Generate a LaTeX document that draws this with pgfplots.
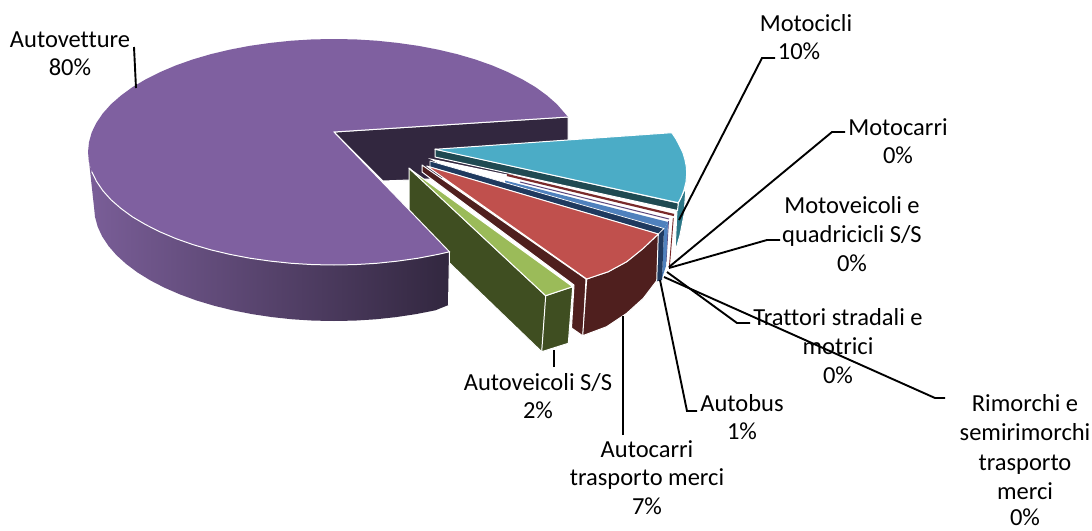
\documentclass[border=0pt]{standalone}
\usepackage{pgfplots}
\pgfplotsset{compat=1.18}
\usepackage{fontspec}
\setmainfont{Carlito}[Ligatures=NoCommon]
\definecolor{pTop}{HTML}{7F60A0}
\definecolor{pDark}{HTML}{32273F}
\definecolor{pLight}{HTML}{7A5E98}
\definecolor{tTop}{HTML}{4BACC6}
\definecolor{tDark}{HTML}{1F4A52}
\definecolor{tWall}{HTML}{2C7787}
\definecolor{rTop}{HTML}{C0504D}
\definecolor{rDark}{HTML}{4F1F1E}
\definecolor{gTop}{HTML}{9BBB59}
\definecolor{gDark}{HTML}{3F4E21}
\definecolor{navy}{HTML}{1F3A5F}
\definecolor{lblue}{HTML}{4F81BD}
\definecolor{thinred}{HTML}{7A2A2A}
\definecolor{thinpur}{HTML}{5F4A7E}
\pgfplotsset{
  sl/.style={draw=white,line width=1pt,line join=round,mark=none,sharp plot,forget plot},
  ld/.style={draw=black,line width=1.9pt,mark=none,sharp plot,forget plot},
}
\newcommand{\lab}[3]{\node[anchor=base,inner sep=0pt,font=\fontsize{24.5}{28}\selectfont] at (axis cs:#1,#2) {#3};}
\begin{document}
\begin{tikzpicture}
\begin{axis}[
  hide axis, scale only axis, width=1092pt, height=530pt,
  xmin=0, xmax=1092, ymin=0, ymax=530, y dir=reverse, clip=false,
]
\addplot[draw=none,fill=white,mark=none,forget plot] coordinates {(0,0)(1092,0)(1092,530)(0,530)} --cycle;
% inner dark wall of the main slice
\addplot[sl,fill=pDark] coordinates {(334,132)(568,117)(568,172)(409.5,180)(383,181)} --cycle;
% small slices: white area
\addplot[draw=none,fill=white,mark=none,forget plot] coordinates {(428,158)(677,210)(672,272)(660,280)} --cycle;
% Motocicli
\addplot[sl,fill=tWall] coordinates {(678.3,203)(686,187)(684,215)(680,235)(675,252)(677,210)} --cycle;
\addplot[sl,fill=tDark] coordinates {(435,149)(678.3,203)(677.5,210.5)(435,157)} --cycle;
\addplot[sl,fill=tTop] coordinates {(435,149.3)(671.7,132.7)(676,139)(680,146.7)(683,153)(685,160)(686.2,166)(686.7,173.3)(686,182)(684,190)(681.5,196.5)(678.3,202.7)} --cycle;
% thin lines
\addplot[draw=thinred,line width=0.9pt,mark=none,forget plot] coordinates {(673.3,218)(669.3,268)};
\addplot[draw=thinpur,line width=0.9pt,mark=none,forget plot] coordinates {(668.5,221)(666,262)};
\addplot[draw=none,fill=lblue,mark=none,forget plot] coordinates {(664,229)(668,222)(666,266)(662,278)} --cycle;
\addplot[draw=none,fill=navy,mark=none,forget plot] coordinates {(658,234)(664,229)(662,280)(656,281.5)} --cycle;
\addplot[draw=thinred,line width=2.2pt,mark=none,forget plot] coordinates {(507,175)(674,215)};
\addplot[draw=thinpur,line width=1pt,mark=none,forget plot] coordinates {(520,182)(669,219)};
\addplot[draw=none,fill=lblue,mark=none,forget plot] coordinates {(505,180.5)(668,222)(664,229)(505,182.5)} --cycle;
\addplot[sl,draw=white,line width=0.7pt,fill=navy] coordinates {(430,161)(664,228.5)(658.3,234)(430,167)} --cycle;
% Autocarri
\addplot[sl,fill=rDark] coordinates {(422,165)(586,279)(583,336)(571.5,328)(574,285)(422,172)} --cycle;
\addplot[sl,fill=rDark] coordinates {(586.7,279)(608.3,271.7)(626.7,261.7)(643.3,248.3)(658.3,234)(656.7,280.7)(643.3,298.3)(626.7,313.3)(606.7,326.7)(582.7,335.7)} --cycle;
\addplot[sl,fill=rTop] coordinates {(426.7,166)(658.3,234)(643.3,248.3)(626.7,261.7)(608.3,271.7)(586.7,279)} --cycle;
% Autoveicoli S/S
\addplot[sl,fill=gDark] coordinates {(409,168)(546,296)(542,352)(409,224)} --cycle;
\addplot[sl,fill=gDark] coordinates {(545.7,295.7)(572.7,286.7)(568.3,343.3)(541.7,351.7)} --cycle;
\addplot[sl,fill=gTop] coordinates {(409,168.3)(572.7,286.7)(545.7,295.7)} --cycle;
% Autovetture: outer wall, top
\addplot[draw=none,left color=pLight,right color=pDark,mark=none,sharp plot,forget plot] coordinates {
 (88,152)(89,161.8)(91.7,171.6)(96.4,181.2)(102.8,190.6)(111,199.8)(121,208.5)(132.5,216.9)(145.6,224.6)(160.1,231.9)(175.9,238.6)(192.9,244.6)(211,249.9)(230,254.4)(249.9,258.2)(270.3,261.1)(291.3,263.3)(312.6,264.6)(334,265)(355.4,264.6)(376.7,263.3)(397.7,261.1)(418.1,258.2)(438,254.4)(449.5,251.8)
 (448.5,305)(435.4,310.3)(416.1,314.1)(396.1,317.1)(375.7,319.3)(354.9,320.6)(334,321)(313.1,320.6)(292.3,319.3)(271.9,317.1)(251.9,314.1)(232.6,310.3)(214,305.7)(196.3,300.4)(179.7,294.3)(164.3,287.6)(150.2,280.3)(137.4,272.4)(126.2,264)(116.5,255.2)(108.5,246)(102.2,236.5)(97.7,226.8)(95,216.9)(94,207)
} --cycle;
\addplot[draw=none,fill=pTop,mark=none,sharp plot,forget plot] coordinates {
 (568,117)(556.9,104.2)(547,95.5)(535.5,87.1)(522.4,79.4)(507.9,72.1)(492.1,65.4)(475.1,59.4)(457,54.1)(438,49.6)(418.1,45.8)(397.7,42.9)(376.7,40.7)(355.4,39.4)(334,39)(312.6,39.4)(291.3,40.7)(270.3,42.9)(249.9,45.8)(230,49.6)(211,54.1)(192.9,59.4)(175.9,65.4)(160.1,72.1)(145.6,79.4)(132.5,87.1)(121,95.5)(111,104.2)(102.8,113.4)(96.4,122.8)(91.7,132.4)(89,142.2)(88,152)
 (89,161.8)(91.7,171.6)(96.4,181.2)(102.8,190.6)(111,199.8)(121,208.5)(132.5,216.9)(145.6,224.6)(160.1,231.9)(175.9,238.6)(192.9,244.6)(211,249.9)(230,254.4)(249.9,258.2)(270.3,261.1)(291.3,263.3)(312.6,264.6)(334,265)(355.4,264.6)(376.7,263.3)(397.7,261.1)(418.1,258.2)(438,254.4)(449.5,251.8)(334,132)
} --cycle;
% white edges of the main slice, only where they lie on something
\addplot[draw=white,line width=1pt,mark=none,sharp plot,forget plot] coordinates {
 (91.7,171.6)(96.4,181.2)(102.8,190.6)(111,199.8)(121,208.5)(132.5,216.9)(145.6,224.6)(160.1,231.9)(175.9,238.6)(192.9,244.6)(211,249.9)(230,254.4)(249.9,258.2)(270.3,261.1)(291.3,263.3)(312.6,264.6)(334,265)(355.4,264.6)(376.7,263.3)(397.7,261.1)(418.1,258.2)(438,254.4)(449.5,251.8)(334,132)(568,117)
};
\addplot[draw=white,line width=1pt,mark=none,sharp plot,forget plot] coordinates {(449.5,251.8)(448.5,305)};
% leader lines
\addplot[ld] coordinates {(134,47)(136,88)};
\addplot[ld] coordinates {(775,58)(762,58)(679,220)};
\addplot[ld] coordinates {(845,132)(832,132)(669,267)};
\addplot[ld] coordinates {(780,240)(767,240)(669,268)};
\addplot[ld] coordinates {(750,323)(737,323)(667,272)};
\addplot[ld] coordinates {(945,398)(935,398)(664,277)};
\addplot[ld] coordinates {(697,411)(687,411)(660,280)};
\addplot[ld] coordinates {(623,435)(623,316)};
\addplot[ld] coordinates {(554,367)(554,350)};
% labels
\lab{70}{47}{Autovetture}\lab{70}{75}{80\%}
\lab{806}{31}{Motocicli}\lab{799}{59}{10\%}
\lab{898}{135}{Motocarri}\lab{898}{163}{0\%}
\lab{852}{213}{Motoveicoli e}\lab{852}{242}{quadricicli S/S}\lab{852}{271}{0\%}
\lab{838}{325}{Trattori stradali e}\lab{838}{354}{motrici}\lab{838}{383}{0\%}
\lab{1025}{411}{Rimorchi e}\lab{1025}{440}{semirimorchi}\lab{1025}{470}{trasporto}\lab{1025}{499}{merci}\lab{1025}{525}{0\%}
\lab{742}{411}{Autobus}\lab{742}{439}{1\%}
\lab{647}{457}{Autocarri}\lab{647}{485}{trasporto merci}\lab{647}{514}{7\%}
\lab{538}{390}{Autoveicoli S/S}\lab{538}{418}{2\%}
\end{axis}
\end{tikzpicture}
\end{document}
